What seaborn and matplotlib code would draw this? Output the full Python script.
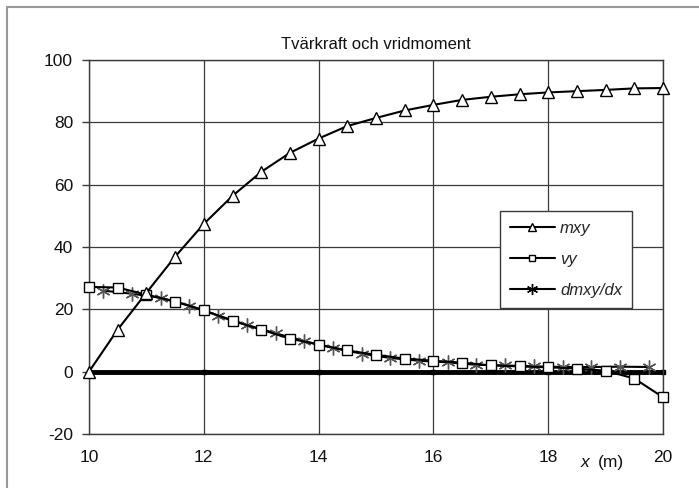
import numpy as np
import pandas as pd
import matplotlib
matplotlib.use("Agg")
import matplotlib.pyplot as plt
import seaborn as sns
from matplotlib.lines import Line2D
from matplotlib.transforms import blended_transform_factory

# values
x_nodes = [10, 10.5, 11, 11.5, 12, 12.5, 13, 13.5, 14, 14.5, 15,
           15.5, 16, 16.5, 17, 17.5, 18, 18.5, 19, 19.5, 20]
mxy = [0, 13.5, 25.3, 36.9, 47.4, 56.4, 64.1, 70.2, 74.8, 78.8, 81.4,
       83.8, 85.6, 87.2, 88.2, 89.0, 89.6, 90.0, 90.4, 90.9, 91.0]
vy = [27.2, 27.0, 24.7, 22.5, 19.7, 16.3, 13.5, 10.6, 8.7, 6.8, 5.4,
      4.2, 3.5, 2.9, 2.0, 1.7, 1.4, 1.0, 0.3, -2.2, -8.2]
x_mid = [10.25, 10.75, 11.25, 11.75, 12.25, 12.75, 13.25, 13.75, 14.25, 14.75,
         15.25, 15.75, 16.25, 16.75, 17.25, 17.75, 18.25, 18.75, 19.25, 19.75]
dmxy_dx = [26.0, 25.0, 23.7, 21.2, 18.0, 15.0, 12.3, 9.8, 7.6, 5.8,
           4.4, 3.5, 3.0, 2.2, 2.0, 1.7, 1.5, 1.5, 1.6, 1.5]

x_ticks = [10, 12, 14, 16, 18, 20]
y_ticks = [-20, 0, 20, 40, 60, 80, 100]
title = "Tvärkraft och vridmoment"

sns.set_theme(style="ticks")
plt.rcParams['font.family'] = ['Liberation Sans', 'DejaVu Sans']
plt.rcParams['axes.unicode_minus'] = False

fig = plt.figure(figsize=(6.99, 4.88), dpi=100)
ax = fig.add_axes([89 / 699, 1 - 434 / 488, 574 / 699, 374 / 488])

df_nodes = pd.DataFrame({"x": x_nodes, "mxy": mxy, "vy": vy})
df_mid = pd.DataFrame({"x": x_mid, "dmxy": dmxy_dx})

# axis line at zero (Excel style)
ax.axhline(0, color="black", lw=3.5, zorder=2)
ax.plot(x_ticks[1:], np.zeros(len(x_ticks) - 1), "s", color="black", ms=3.5,
        zorder=2, clip_on=False)

sns.lineplot(data=df_mid, x="x", y="dmxy", ax=ax, color="black", lw=1.5,
             marker=(6, 2, 0), ms=10, markeredgecolor="#555555",
             markeredgewidth=1.0, label="dmxy/dx", zorder=3, clip_on=False)
sns.lineplot(data=df_nodes, x="x", y="vy", ax=ax, color="black", lw=1.5,
             marker="s", ms=7, markerfacecolor="white", markeredgecolor="black",
             markeredgewidth=1.0, label="vy", zorder=4, clip_on=False)
sns.lineplot(data=df_nodes, x="x", y="mxy", ax=ax, color="black", lw=1.5,
             marker="^", ms=8.5, markerfacecolor="white", markeredgecolor="black",
             markeredgewidth=1.0, label="mxy", zorder=5, clip_on=False)

ax.set_xlim(10, 20)
ax.set_ylim(-20, 100)
ax.set_xticks(x_ticks)
ax.set_yticks(y_ticks)
ax.grid(True, color="#3a3a3a", lw=0.9)
ax.set_axisbelow(True)
for sp in ax.spines.values():
    sp.set_visible(True)
    sp.set_color("#3a3a3a")
    sp.set_linewidth(1.0)
ax.tick_params(axis="y", length=5, width=1, color="#3a3a3a", pad=6.5,
               labelsize=12.5, labelcolor="#111111")
ax.tick_params(axis="x", length=0, pad=11.5, labelsize=12.5, labelcolor="#111111")
ax.set_xlabel("")
ax.set_ylabel("")

ax.set_title(title, fontsize=12, pad=8, color="#111111")

trans = blended_transform_factory(ax.transData, ax.transAxes)
ax.text(18.64, -0.075, "x", transform=trans, fontsize=12.5, style="italic",
        ha="center", va="center", color="#111111")
ax.text(19.09, -0.075, "(m)", transform=trans, fontsize=12.5,
        ha="center", va="center", color="#111111")

leg_handles = [
    Line2D([], [], color="black", lw=1.5, marker="^", ms=6,
           markerfacecolor="white", markeredgecolor="black"),
    Line2D([], [], color="black", lw=1.5, marker="s", ms=5,
           markerfacecolor="white", markeredgecolor="black"),
    Line2D([], [], color="black", lw=1.5, marker=(6, 2, 0), ms=8,
           markeredgecolor="black"),
]
leg = ax.legend(leg_handles, ["mxy", "vy", "dmxy/dx"], loc="upper left",
                bbox_to_anchor=(0.716, 0.596), borderaxespad=0,
                fancybox=False, framealpha=1, edgecolor="#3a3a3a",
                prop={"style": "italic", "size": 12}, labelspacing=0.95,
                handlelength=2.7, handletextpad=0.3, borderpad=0.6)
leg.get_frame().set_linewidth(1.0)

# outer chart border
fig.add_artist(Line2D([7 / 699, 7 / 699], [0, 1 - 7 / 488], color="#9a9a9a", lw=1.5))
fig.add_artist(Line2D([7 / 699, 1], [1 - 7 / 488, 1 - 7 / 488], color="#9a9a9a", lw=1.5))

fig.savefig("out.png", dpi=100)
